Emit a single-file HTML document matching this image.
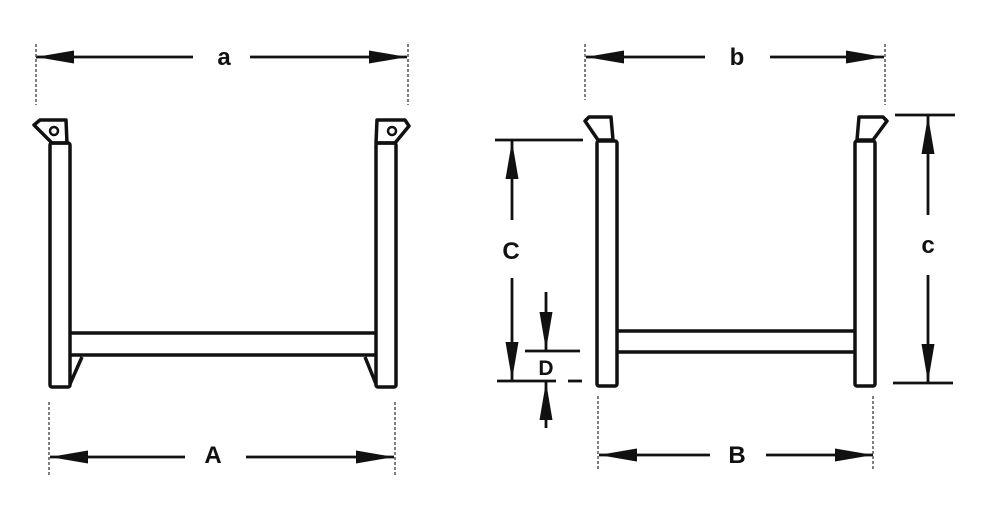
<!DOCTYPE html>
<html><head><meta charset="utf-8"><style>html,body{margin:0;padding:0;background:#fff}svg{display:block}</style></head>
<body>
<svg width="1000" height="508" viewBox="0 0 1000 508" xmlns="http://www.w3.org/2000/svg">
<defs>
<marker id="ah" markerWidth="40" markerHeight="16" refX="38" refY="8" orient="auto" markerUnits="userSpaceOnUse">
<path d="M0,1.5 L38,8 L0,14.5 Z" fill="#111"/>
</marker>
</defs>
<g fill="none" stroke="#111" stroke-width="3.5" stroke-linejoin="round">
<rect x="50" y="143" width="20" height="244" rx="2"/>
<rect x="376" y="143" width="20" height="244" rx="2"/>
<path d="M70,333 L376,333 M70,355 L376,355"/>
<path d="M82,357 L70,384 M365,357 L376,384"/>
<path d="M34,125 L40,120 L66,120 L67,143 L52,143 Z"/>
<path d="M376,143 L377,120 L405,120 L409,126 L395,143 Z"/>
<circle cx="54" cy="131" r="4" stroke-width="2.5"/>
<circle cx="392" cy="131" r="4" stroke-width="2.5"/>
<rect x="597" y="141" width="20" height="245" rx="2"/>
<rect x="855" y="141" width="20" height="245" rx="2"/>
<path d="M617,331 L855,331 M617,352 L855,352"/>
<path d="M585,121 L589,117 L611,117 L613,140 L598,140 Z"/>
<path d="M857,140 L859,117 L883,117 L887,121 L873,140 Z"/>
</g>
<g stroke="#111" stroke-width="2.8" fill="none">
<line x1="193" y1="57" x2="36" y2="57" marker-end="url(#ah)"/>
<line x1="250" y1="57" x2="407" y2="57" marker-end="url(#ah)"/>
<line x1="185" y1="457" x2="50" y2="457" marker-end="url(#ah)"/>
<line x1="246" y1="457" x2="394" y2="457" marker-end="url(#ah)"/>
<line x1="705" y1="57" x2="586" y2="57" marker-end="url(#ah)"/>
<line x1="770" y1="57" x2="884" y2="57" marker-end="url(#ah)"/>
<line x1="710" y1="455" x2="599" y2="455" marker-end="url(#ah)"/>
<line x1="766" y1="455" x2="873" y2="455" marker-end="url(#ah)"/>
<line x1="895" y1="115" x2="955" y2="115"/>
<line x1="893" y1="383" x2="953" y2="383"/>
<line x1="928" y1="215" x2="928" y2="116" marker-end="url(#ah)"/>
<line x1="928" y1="275" x2="928" y2="382" marker-end="url(#ah)"/>
<line x1="495" y1="140" x2="583" y2="140"/>
<line x1="497" y1="381" x2="556" y2="381"/>
<line x1="568" y1="381" x2="582" y2="381"/>
<line x1="512" y1="220" x2="512" y2="141" marker-end="url(#ah)"/>
<line x1="512" y1="278" x2="512" y2="380" marker-end="url(#ah)"/>
<line x1="525" y1="351" x2="580" y2="351"/>
<line x1="546" y1="292" x2="546" y2="350" marker-end="url(#ah)"/>
<line x1="546" y1="428" x2="546" y2="382" marker-end="url(#ah)"/>
</g>
<g stroke="#555" stroke-width="1.5" stroke-dasharray="3,2" fill="none">
<line x1="36" y1="44" x2="36" y2="105"/>
<line x1="408" y1="44" x2="408" y2="105"/>
<line x1="49" y1="402" x2="49" y2="475"/>
<line x1="395" y1="402" x2="395" y2="475"/>
<line x1="585" y1="44" x2="585" y2="100"/>
<line x1="885" y1="44" x2="885" y2="105"/>
<line x1="598" y1="396" x2="598" y2="470"/>
<line x1="873" y1="396" x2="873" y2="470"/>
</g>
<g font-family="Liberation Sans, sans-serif" font-weight="bold" font-size="24" fill="#111" text-anchor="middle">
<text x="224" y="65">a</text>
<text x="213" y="463">A</text>
<text x="737" y="65">b</text>
<text x="737" y="463">B</text>
<text x="928" y="253">c</text>
<text x="511" y="259">C</text>
<text x="546" y="375" font-size="21">D</text>
</g>
</svg>
</body></html>
